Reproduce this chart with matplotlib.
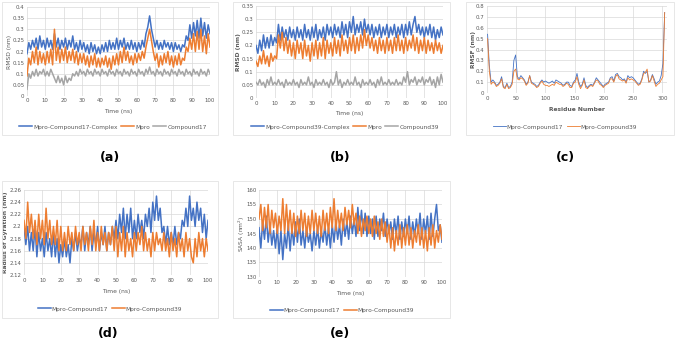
import matplotlib
matplotlib.use("Agg")
import matplotlib.pyplot as plt
from matplotlib.patches import Rectangle
from matplotlib.ticker import FuncFormatter, MultipleLocator
import numpy as np

# time axis for the MD runs (ns)
time_ns = list(range(0, 101))

# (a) RMSD, compound 17 run
a_complex = [0.19, 0.24, 0.21, 0.25, 0.22, 0.26, 0.21, 0.27, 0.22, 0.25, 0.21,
             0.26, 0.22, 0.25, 0.21, 0.28, 0.22, 0.26, 0.21, 0.25, 0.22,
             0.26, 0.21, 0.25, 0.22, 0.27, 0.21, 0.24, 0.20, 0.25, 0.21,
             0.24, 0.20, 0.23, 0.19, 0.24, 0.20, 0.23, 0.19, 0.22, 0.19,
             0.23, 0.20, 0.24, 0.20, 0.25, 0.21, 0.24, 0.21, 0.26, 0.21,
             0.25, 0.22, 0.26, 0.21, 0.24, 0.21, 0.25, 0.21, 0.24, 0.20,
             0.24, 0.21, 0.25, 0.22, 0.28, 0.31, 0.36, 0.30, 0.26, 0.22,
             0.25, 0.21, 0.24, 0.21, 0.25, 0.22, 0.24, 0.21, 0.24, 0.20,
             0.24, 0.21, 0.23, 0.20, 0.23, 0.22, 0.27, 0.25, 0.32, 0.26,
             0.33, 0.27, 0.34, 0.26, 0.35, 0.27, 0.33, 0.26, 0.32, 0.28]
a_mpro = [0.09, 0.17, 0.14, 0.20, 0.15, 0.22, 0.14, 0.20, 0.15, 0.19, 0.14,
          0.20, 0.15, 0.21, 0.14, 0.30, 0.16, 0.22, 0.15, 0.21, 0.16,
          0.22, 0.15, 0.20, 0.16, 0.21, 0.15, 0.20, 0.14, 0.19, 0.15,
          0.19, 0.14, 0.18, 0.13, 0.18, 0.14, 0.19, 0.13, 0.17, 0.13,
          0.17, 0.14, 0.18, 0.13, 0.17, 0.12, 0.18, 0.14, 0.19, 0.14,
          0.20, 0.15, 0.22, 0.16, 0.20, 0.15, 0.18, 0.14, 0.19, 0.15,
          0.19, 0.16, 0.20, 0.17, 0.22, 0.26, 0.30, 0.25, 0.20, 0.16,
          0.19, 0.13, 0.18, 0.14, 0.19, 0.15, 0.20, 0.14, 0.18, 0.13,
          0.18, 0.14, 0.19, 0.14, 0.17, 0.16, 0.22, 0.20, 0.26, 0.21,
          0.28, 0.20, 0.29, 0.21, 0.30, 0.20, 0.27, 0.19, 0.28, 0.22]
a_lig = [0.03, 0.10, 0.08, 0.11, 0.09, 0.12, 0.09, 0.11, 0.10, 0.12, 0.09,
         0.11, 0.09, 0.12, 0.10, 0.08, 0.06, 0.09, 0.06, 0.08, 0.05,
         0.09, 0.06, 0.08, 0.07, 0.10, 0.09, 0.11, 0.09, 0.12, 0.10,
         0.11, 0.09, 0.12, 0.10, 0.11, 0.09, 0.12, 0.10, 0.11, 0.09,
         0.12, 0.10, 0.11, 0.09, 0.12, 0.10, 0.11, 0.09, 0.12, 0.10,
         0.11, 0.09, 0.12, 0.10, 0.11, 0.09, 0.12, 0.10, 0.11, 0.09,
         0.12, 0.10, 0.11, 0.09, 0.12, 0.10, 0.13, 0.10, 0.11, 0.09,
         0.12, 0.10, 0.11, 0.09, 0.12, 0.10, 0.11, 0.09, 0.12, 0.10,
         0.11, 0.09, 0.12, 0.10, 0.11, 0.09, 0.12, 0.10, 0.11, 0.09,
         0.12, 0.10, 0.11, 0.09, 0.12, 0.10, 0.11, 0.09, 0.12, 0.10]

# (b) RMSD, compound 39 run
b_complex = [0.20, 0.17, 0.22, 0.18, 0.24, 0.19, 0.23, 0.19, 0.24, 0.20, 0.23,
             0.21, 0.28, 0.22, 0.27, 0.23, 0.26, 0.22, 0.27, 0.23, 0.26,
             0.22, 0.27, 0.23, 0.26, 0.22, 0.28, 0.23, 0.26, 0.22, 0.27,
             0.23, 0.28, 0.22, 0.26, 0.23, 0.27, 0.22, 0.28, 0.24, 0.27,
             0.23, 0.28, 0.24, 0.27, 0.23, 0.29, 0.24, 0.28, 0.23, 0.29,
             0.25, 0.31, 0.24, 0.28, 0.25, 0.29, 0.24, 0.30, 0.25, 0.28,
             0.24, 0.28, 0.23, 0.27, 0.24, 0.28, 0.23, 0.27, 0.24, 0.28,
             0.23, 0.27, 0.24, 0.28, 0.23, 0.27, 0.24, 0.28, 0.23, 0.28,
             0.24, 0.29, 0.24, 0.28, 0.31, 0.25, 0.28, 0.24, 0.27, 0.23,
             0.27, 0.24, 0.28, 0.23, 0.27, 0.22, 0.26, 0.23, 0.27, 0.24]
b_mpro = [0.14, 0.12, 0.16, 0.13, 0.18, 0.13, 0.16, 0.12, 0.17, 0.14, 0.16,
          0.15, 0.24, 0.19, 0.25, 0.18, 0.23, 0.17, 0.22, 0.16, 0.21,
          0.15, 0.22, 0.17, 0.21, 0.15, 0.22, 0.16, 0.20, 0.14, 0.21,
          0.16, 0.22, 0.15, 0.21, 0.16, 0.23, 0.15, 0.22, 0.17, 0.21,
          0.16, 0.23, 0.17, 0.22, 0.16, 0.24, 0.18, 0.22, 0.17, 0.23,
          0.18, 0.24, 0.17, 0.23, 0.18, 0.24, 0.19, 0.26, 0.20, 0.24,
          0.19, 0.23, 0.18, 0.22, 0.17, 0.23, 0.18, 0.22, 0.17, 0.23,
          0.18, 0.22, 0.17, 0.23, 0.18, 0.24, 0.18, 0.22, 0.17, 0.23,
          0.18, 0.22, 0.19, 0.24, 0.18, 0.23, 0.17, 0.22, 0.18, 0.23,
          0.17, 0.22, 0.18, 0.21, 0.17, 0.22, 0.18, 0.21, 0.17, 0.20]
b_lig = [0.06, 0.05, 0.07, 0.05, 0.06, 0.04, 0.07, 0.05, 0.08, 0.05, 0.06,
         0.05, 0.07, 0.05, 0.06, 0.04, 0.07, 0.05, 0.06, 0.05, 0.07,
         0.05, 0.06, 0.04, 0.07, 0.05, 0.06, 0.05, 0.08, 0.05, 0.06,
         0.04, 0.07, 0.05, 0.06, 0.05, 0.07, 0.05, 0.06, 0.04, 0.07,
         0.05, 0.06, 0.10, 0.05, 0.07, 0.04, 0.06, 0.05, 0.07, 0.05,
         0.06, 0.05, 0.08, 0.05, 0.06, 0.04, 0.07, 0.05, 0.06, 0.05,
         0.07, 0.05, 0.06, 0.04, 0.07, 0.05, 0.08, 0.05, 0.06, 0.05,
         0.07, 0.05, 0.06, 0.05, 0.07, 0.05, 0.06, 0.05, 0.08, 0.06,
         0.10, 0.05, 0.07, 0.06, 0.08, 0.05, 0.07, 0.06, 0.08, 0.05,
         0.07, 0.06, 0.08, 0.05, 0.07, 0.04, 0.08, 0.05, 0.09, 0.06]

# (c) RMSF per residue (every 3rd residue)
residue = list(range(1, 305, 3))
c_cmp17 = [0.54, 0.25, 0.10, 0.12, 0.10, 0.07, 0.08, 0.10, 0.15, 0.06,
           0.05, 0.09, 0.05, 0.06, 0.10, 0.30, 0.35, 0.15, 0.13, 0.16,
           0.14, 0.12, 0.08, 0.10, 0.16, 0.10, 0.09, 0.08, 0.06, 0.07,
           0.10, 0.12, 0.10, 0.11, 0.10, 0.09, 0.10, 0.11, 0.09, 0.12,
           0.11, 0.10, 0.09, 0.07, 0.08, 0.10, 0.10, 0.07, 0.06, 0.10,
           0.12, 0.18, 0.10, 0.06, 0.08, 0.14, 0.07, 0.05, 0.07, 0.08,
           0.07, 0.10, 0.14, 0.12, 0.10, 0.08, 0.06, 0.08, 0.09, 0.10,
           0.14, 0.15, 0.11, 0.17, 0.18, 0.15, 0.14, 0.12, 0.13, 0.10,
           0.16, 0.14, 0.15, 0.14, 0.12, 0.10, 0.08, 0.09, 0.13, 0.20,
           0.18, 0.20, 0.10, 0.12, 0.17, 0.13, 0.08, 0.10, 0.11, 0.16,
           0.27, 0.74]
c_cmp39 = [0.50, 0.20, 0.08, 0.10, 0.09, 0.06, 0.07, 0.09, 0.13, 0.05,
           0.04, 0.08, 0.04, 0.05, 0.08, 0.20, 0.22, 0.13, 0.12, 0.14,
           0.13, 0.11, 0.07, 0.09, 0.16, 0.09, 0.08, 0.07, 0.05, 0.06,
           0.09, 0.11, 0.08, 0.07, 0.07, 0.06, 0.07, 0.08, 0.07, 0.10,
           0.09, 0.08, 0.08, 0.06, 0.07, 0.09, 0.08, 0.05, 0.05, 0.09,
           0.10, 0.15, 0.08, 0.04, 0.07, 0.12, 0.05, 0.04, 0.06, 0.07,
           0.06, 0.09, 0.12, 0.11, 0.08, 0.07, 0.05, 0.07, 0.08, 0.09,
           0.13, 0.13, 0.10, 0.15, 0.17, 0.13, 0.12, 0.11, 0.12, 0.09,
           0.14, 0.12, 0.13, 0.12, 0.11, 0.09, 0.07, 0.08, 0.12, 0.18,
           0.19, 0.22, 0.10, 0.11, 0.16, 0.11, 0.06, 0.08, 0.09, 0.12,
           0.15, 0.74]

# (d) radius of gyration
d_cmp17 = [2.20, 2.17, 2.20, 2.16, 2.19, 2.16, 2.20, 2.15, 2.19, 2.16, 2.18,
           2.15, 2.19, 2.16, 2.18, 2.15, 2.19, 2.15, 2.18, 2.14, 2.17,
           2.15, 2.18, 2.15, 2.17, 2.14, 2.18, 2.16, 2.19, 2.16, 2.18,
           2.17, 2.20, 2.16, 2.19, 2.17, 2.20, 2.16, 2.19, 2.17, 2.20,
           2.16, 2.19, 2.17, 2.20, 2.16, 2.19, 2.17, 2.20, 2.18, 2.21,
           2.18, 2.22, 2.19, 2.23, 2.18, 2.22, 2.19, 2.23, 2.18, 2.21,
           2.18, 2.22, 2.19, 2.21, 2.18, 2.22, 2.20, 2.23, 2.19, 2.24,
           2.21, 2.25, 2.21, 2.23, 2.19, 2.20, 2.17, 2.20, 2.17, 2.19,
           2.17, 2.20, 2.17, 2.19, 2.18, 2.21, 2.20, 2.23, 2.20, 2.25,
           2.21, 2.23, 2.20, 2.24, 2.21, 2.23, 2.19, 2.22, 2.18, 2.21]
d_cmp39 = [2.21, 2.18, 2.24, 2.19, 2.22, 2.18, 2.21, 2.17, 2.22, 2.18, 2.21,
           2.17, 2.23, 2.18, 2.21, 2.17, 2.20, 2.17, 2.21, 2.16, 2.20,
           2.16, 2.19, 2.16, 2.20, 2.17, 2.19, 2.16, 2.20, 2.17, 2.19,
           2.16, 2.20, 2.17, 2.19, 2.16, 2.20, 2.17, 2.21, 2.16, 2.19,
           2.16, 2.20, 2.17, 2.19, 2.16, 2.19, 2.17, 2.20, 2.16, 2.20,
           2.15, 2.19, 2.16, 2.20, 2.15, 2.19, 2.16, 2.18, 2.15, 2.19,
           2.16, 2.19, 2.17, 2.20, 2.16, 2.19, 2.16, 2.18, 2.15, 2.19,
           2.16, 2.19, 2.17, 2.18, 2.16, 2.19, 2.16, 2.18, 2.15, 2.19,
           2.16, 2.18, 2.15, 2.19, 2.16, 2.18, 2.15, 2.19, 2.16, 2.18,
           2.15, 2.14, 2.18, 2.15, 2.19, 2.16, 2.18, 2.15, 2.18, 2.16]

# (e) SASA
e_cmp17 = [147, 140, 149, 143, 151, 142, 148, 141, 146, 140, 147,
           138, 146, 136, 145, 140, 148, 139, 147, 141, 149,
           142, 150, 141, 146, 140, 147, 142, 145, 139, 146,
           141, 147, 140, 146, 142, 148, 141, 147, 140, 148,
           142, 149, 143, 148, 141, 150, 144, 149, 143, 151,
           145, 150, 144, 154, 146, 153, 145, 152, 144, 151,
           145, 150, 143, 151, 144, 150, 146, 152, 144, 150,
           145, 149, 143, 150, 145, 151, 143, 149, 144, 150,
           145, 151, 143, 149, 144, 150, 145, 152, 143, 150,
           145, 151, 143, 152, 144, 150, 155, 146, 148, 142]
e_cmp39 = [150, 155, 146, 154, 147, 155, 145, 153, 147, 152, 145,
           151, 146, 157, 145, 155, 146, 153, 145, 152, 144,
           151, 145, 153, 146, 152, 144, 151, 145, 153, 146,
           152, 145, 151, 144, 153, 146, 152, 145, 154, 147,
           157, 146, 153, 147, 152, 146, 154, 148, 153, 147,
           155, 148, 152, 145, 151, 144, 150, 146, 151, 145,
           150, 144, 151, 145, 149, 143, 150, 144, 149, 142,
           148, 140, 147, 139, 146, 141, 148, 140, 147, 141,
           148, 141, 147, 140, 146, 142, 148, 141, 147, 140,
           146, 139, 147, 141, 148, 140, 146, 142, 148, 143]

BLUE = "#4472C4"
ORANGE = "#ED7D31"
GREY = "#A5A5A5"
GRID = "#D9D9D9"
TXT = "#595959"

W, H = 676, 351
LW = 1.1


def fx(px):
    return px / W


def fy(px):
    return 1 - px / H


def make_axes(fig, x0, x1, y0, y1):
    # pixel box of the plot area -> figure axes
    ax = fig.add_axes([fx(x0), fy(y1), fx(x1) - fx(x0), fy(y0) - fy(y1)])
    for s in ax.spines.values():
        s.set_visible(False)
    ax.grid(True, color=GRID, lw=0.5)
    ax.set_axisbelow(True)
    ax.tick_params(length=0, labelsize=3.9, colors=TXT, pad=1.8)
    ax.yaxis.set_major_formatter(FuncFormatter(lambda v, p: "%g" % round(v, 3)))
    return ax


def labels(ax, fig, xtext, ytext, xl_y, yl_x, bold_x=False, bold_y=False):
    ax.set_xlabel(xtext, fontsize=4.3, color=TXT, fontweight="bold" if bold_x else "normal")
    ax.set_ylabel(ytext, fontsize=4.3, color=TXT, fontweight="bold" if bold_y else "normal")
    bb = ax.get_position()
    ax.xaxis.set_label_coords(bb.x0 + bb.width / 2, fy(xl_y), transform=fig.transFigure)
    ax.yaxis.set_label_coords(fx(yl_x), bb.y0 + bb.height / 2, transform=fig.transFigure)
    ax.xaxis.label.set_va("center")
    ax.yaxis.label.set_va("center")


def panel_box(fig, x0, x1, y0, y1):
    fig.patches.append(Rectangle((fx(x0), fy(y1)), fx(x1) - fx(x0), fy(y0) - fy(y1),
                                 transform=fig.transFigure, fill=False,
                                 edgecolor="#E3E3E3", lw=0.6))


def legend(ax, fig, xc, yc, ncol):
    ax.legend(loc="center", bbox_to_anchor=(fx(xc), fy(yc)), bbox_transform=fig.transFigure,
              ncol=ncol, frameon=False, fontsize=4.2, handlelength=2.2,
              columnspacing=0.6, handletextpad=0.2, labelcolor=TXT)


fig = plt.figure(figsize=(W / 100, H / 100), dpi=100)

# boxes around each chart
panel_box(fig, 2, 218, 2, 135)
panel_box(fig, 233, 450, 2, 135)
panel_box(fig, 466, 674, 2, 135)
panel_box(fig, 2, 218, 181, 318)
panel_box(fig, 233, 450, 181, 318)

# (a)
ax = make_axes(fig, 27, 210, 7, 96)
ax.plot(time_ns, a_complex, color=BLUE, lw=LW, label="Mpro-Compound17-Complex")
ax.plot(time_ns, a_mpro, color=ORANGE, lw=LW, label="Mpro")
ax.plot(time_ns, a_lig, color=GREY, lw=LW, label="Compound17")
ax.set_xlim(0, 100)
ax.set_ylim(0, 0.4)
ax.xaxis.set_major_locator(MultipleLocator(10))
ax.yaxis.set_major_locator(MultipleLocator(0.05))
labels(ax, fig, "Time (ns)", "RMSD (nm)", 111, 9)
legend(ax, fig, 113, 127, 3)

# (b)
ax = make_axes(fig, 256, 443, 6, 98)
ax.plot(time_ns, b_complex, color=BLUE, lw=LW, label="Mpro-Compound39-Complex")
ax.plot(time_ns, b_mpro, color=ORANGE, lw=LW, label="Mpro")
ax.plot(time_ns, b_lig, color=GREY, lw=LW, label="Compound39")
ax.set_xlim(0, 100)
ax.set_ylim(0, 0.35)
ax.xaxis.set_major_locator(MultipleLocator(10))
ax.yaxis.set_major_locator(MultipleLocator(0.05))
labels(ax, fig, "Time (ns)", "RMSD (nm)", 113, 238, bold_y=True)
legend(ax, fig, 345, 127, 3)

# (c)
ax = make_axes(fig, 487, 667, 6, 93)
ax.plot(residue, c_cmp17, color=BLUE, lw=0.6, label="Mpro-Compound17")
ax.plot(residue, c_cmp39, color=ORANGE, lw=0.6, label="Mpro-Compound39")
ax.set_xlim(0, 308)
ax.set_ylim(0, 0.8)
ax.xaxis.set_major_locator(MultipleLocator(50))
ax.yaxis.set_major_locator(MultipleLocator(0.1))
labels(ax, fig, "Residue Number", "RMSF (nm)", 110, 473, bold_x=True, bold_y=True)
legend(ax, fig, 565, 127, 2)

# (d)
ax = make_axes(fig, 24, 208, 190, 275)
ax.plot(time_ns, d_cmp17, color=BLUE, lw=LW, label="Mpro-Compound17")
ax.plot(time_ns, d_cmp39, color=ORANGE, lw=LW, label="Mpro-Compound39")
ax.set_xlim(0, 100)
ax.set_ylim(2.12, 2.26)
ax.xaxis.set_major_locator(MultipleLocator(10))
ax.yaxis.set_major_locator(MultipleLocator(0.02))
labels(ax, fig, "Time (ns)", "Radius of Gyration (nm)", 292, 6, bold_y=True)
legend(ax, fig, 110, 309, 2)

# (e)
ax = make_axes(fig, 259, 442, 190, 277)
ax.plot(time_ns, e_cmp17, color=BLUE, lw=LW, label="Mpro-Compound17")
ax.plot(time_ns, e_cmp39, color=ORANGE, lw=LW, label="Mpro-Compound39")
ax.set_xlim(0, 100)
ax.set_ylim(130, 160)
ax.xaxis.set_major_locator(MultipleLocator(10))
ax.yaxis.set_major_locator(MultipleLocator(5))
labels(ax, fig, "Time (ns)", "SASA (nm$^2$)", 294, 242)
legend(ax, fig, 342, 310, 2)

# panel letters
for lab, x, y in [("(a)", 110, 158), ("(b)", 340, 158), ("(c)", 565, 158),
                  ("(d)", 108, 333), ("(e)", 340, 333)]:
    fig.text(fx(x), fy(y), lab, ha="center", va="center", fontsize=9, fontweight="bold")

fig.savefig("out.png", dpi=100)
